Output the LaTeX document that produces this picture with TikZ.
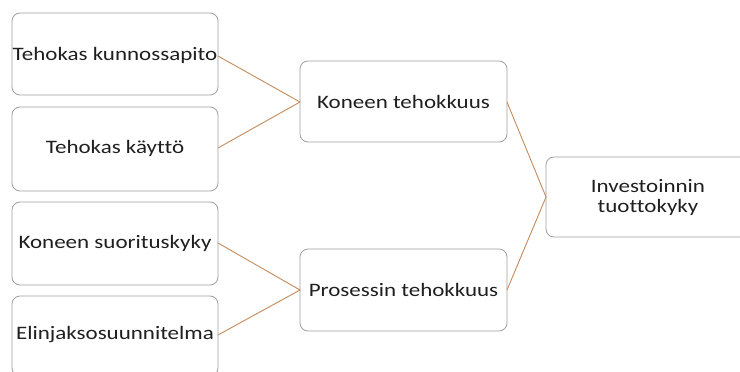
\documentclass[tikz,border=0pt]{standalone}
\usepackage{fontspec}
\usepackage{graphicx}
\setmainfont[Ligatures={NoCommon}]{Carlito}
\definecolor{conn}{RGB}{196,140,92}
\definecolor{boxline}{RGB}{160,160,160}
\newcommand{\stxt}[1]{\scalebox{1.21}[1]{#1}}
\begin{document}
\begin{tikzpicture}[x=1pt,y=-1pt,
  box/.style={draw=boxline,line width=0.8pt,rounded corners=8pt,fill=white},
  conline/.style={draw=conn,line width=0.9pt},
  lbl/.style={font=\fontsize{19}{20}\selectfont,text=black!88,align=center}]
\useasboundingbox (0,0) rectangle (740,372);
\clip (0,0) rectangle (740,372);
\fill[white] (0,0) rectangle (740,372);
% boxes
\draw[box] (12,13) rectangle (218,95);
\draw[box] (12,107) rectangle (218,191);
\draw[box] (12,202) rectangle (218,285);
\draw[box] (12,296) rectangle (218,376);
\draw[box] (300,61) rectangle (507,142);
\draw[box] (300,249) rectangle (507,331);
\draw[box] (546,157) rectangle (752,237);
% labels
\node[lbl] (a) at (115,55) {\stxt{Tehokas kunnossapito}};
\node[lbl] (b) at (115,148) {\stxt{Tehokas käyttö}};
\node[lbl] (c) at (115,243) {\stxt{Koneen suorituskyky}};
\node[lbl] (d) at (115,335) {\stxt{Elinjaksosuunnitelma}};
\node[lbl] (e) at (403.5,102) {\stxt{Koneen tehokkuus}};
\node[lbl] (f) at (403.5,290) {\stxt{Prosessin tehokkuus}};
\node[lbl] (g) at (648,197) {\stxt{Investoinnin}\\\stxt{tuottokyky}};
% anchor coordinates
\coordinate (a1) at (218,56);
\coordinate (b1) at (218,148);
\coordinate (c1) at (218,243);
\coordinate (d1) at (218,335);
\coordinate (e0) at (300,102);
\coordinate (f0) at (300,290);
\coordinate (e1) at (507,102);
\coordinate (f1) at (507,290);
\coordinate (g0) at (546,197);
\draw[conline] (a1) -- (e0) -- (b1);
\draw[conline] (c1) -- (f0) -- (d1);
\draw[conline] (e1) -- (g0) -- (f1);
\end{tikzpicture}
\end{document}
